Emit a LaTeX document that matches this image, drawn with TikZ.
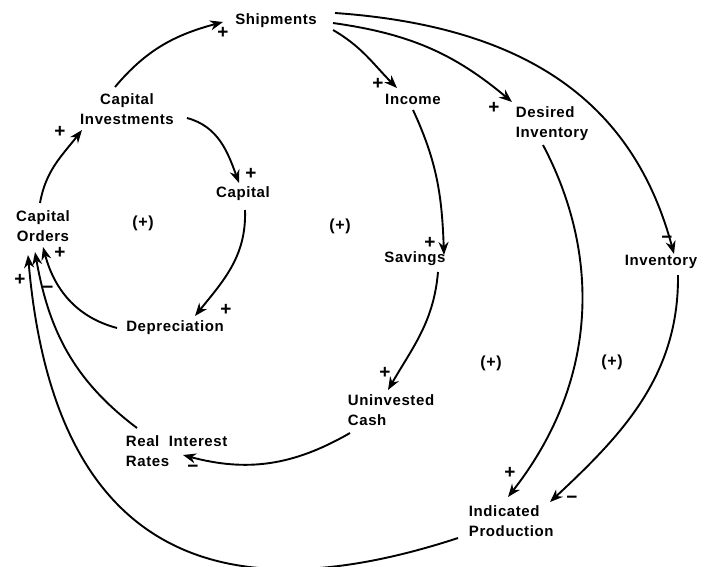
\documentclass[tikz,border=0pt]{standalone}
\usepackage{fontspec}
\setmainfont[LetterSpace=4]{Liberation Sans}
\usetikzlibrary{arrows.meta}
\begin{document}
\begin{tikzpicture}[x=1pt, y=-1pt, >={Stealth[length=13pt,width=10pt]}, line width=1.9pt,
	var/.style={font=\bfseries\fontsize{15}{20}\selectfont, inner sep=2pt},
	sgn/.style={font=\bfseries\fontsize{19}{19}\selectfont, inner sep=0pt},
	loopsign/.style={font=\bfseries\fontsize{16}{16}\selectfont}]
	\useasboundingbox (0,0) rectangle (704,566);
	% variables
	\node[var] (shipments) at (276,21) {Shipments};
	\node[var, align=center] (capinv) at (127,109) {Capital\\Investments};
	\node[var] (capital) at (243,194) {Capital};
	\node[var, align=center] (caporders) at (43,226) {Capital\\Orders};
	\node[var] (depreciation) at (175,328) {Depreciation};
	\node[var] (income) at (413,99) {Income};
	\node[var, align=left, anchor=west] (desinv) at (513,124) {Desired\\Inventory};
	\node[var] (savings) at (415,259) {Savings};
	\node[var] (inventory) at (661,262) {Inventory};
	\node[var, align=left, anchor=west] (uninvcash) at (345,410) {Uninvested\\Cash};
	\node[var, align=left, anchor=west] (realrates) at (123,451) {Real~~Interest\\Rates};
	\node[var, align=left, anchor=west] (indprod) at (466,521) {Indicated\\Production};
	% loop polarities
	\node[loopsign] (loopa) at (143,223) {(+)};
	\node[loopsign] (loopb) at (340,226) {(+)};
	\node[loopsign] (loopc) at (491,363) {(+)};
	\node[loopsign] (loopd) at (612,362) {(+)};
	% links
	\draw[->] ([shift={(-3,-23)}]caporders.center) to[out=80,in=232] ([shift={(-45,21)}]capinv.center);
	\draw[->] ([shift={(-12,-22)}]capinv.center) to[out=50,in=195] ([shift={(-53,1)}]shipments.center);
	\draw[->] ([shift={(60,9)}]capinv.center) to[out=-15,in=110] ([shift={(-4,-11)}]capital.center);
	\draw[->] ([shift={(2,16)}]capital.center) to[out=-88,in=51] ([shift={(20,-12)}]depreciation.center);
	\draw[->] ([shift={(-58,0)}]depreciation.center) to[out=165,in=-75] ([shift={(0,21)}]caporders.center);
	\draw[->] ([shift={(14,-23)}]realrates.west) to[out=143,in=-80] ([shift={(-8,26)}]caporders.center);
	\draw[->] ([shift={(-8,17)}]indprod.west) .. controls +(-250,82) and +(25,290) .. ([shift={(-15,29)}]caporders.center);
	\draw[->] ([shift={(5,23)}]uninvcash.west) to[out=210,in=-15] ([shift={(60,4)}]realrates.west);
	\draw[->] ([shift={(57,9)}]shipments.center) to[out=-30,in=135] ([shift={(-16,-11)}]income.center);
	\draw[->] ([shift={(57,2)}]shipments.center) to[out=-8,in=140] ([shift={(-1,-22)}]desinv.west);
	\draw[->] ([shift={(59,-8)}]shipments.center) .. controls +(200,14) and +(-39,-145) .. ([shift={(13,-8)}]inventory.center);
	\draw[->] ([shift={(0,11)}]income.center) to[out=-65,in=92] ([shift={(29,-4)}]savings.center);
	\draw[->] ([shift={(23,13)}]savings.center) to[out=-95,in=60] ([shift={(43,-20)}]uninvcash.west);
	\draw[->] ([shift={(30,21)}]desinv.west) .. controls +(56,106) and +(93,-119) .. ([shift={(42,-24)}]indprod.west);
	\draw[->] ([shift={(17,13)}]inventory.center) .. controls +(1,100) and +(73,-68) .. ([shift={(84,-19)}]indprod.west);
	% link polarities
	\node[sgn] (s1) at (60,132) {+};
	\node[sgn] (s2) at (223,33) {+};
	\node[sgn] (s3) at (251,174) {+};
	\node[sgn] (s4) at (226,310) {+};
	\node[sgn] (s5) at (60,253) {+};
	\node[sgn] (s6) at (48,290) {−};
	\node[sgn] (s7) at (20,280) {+};
	\node[sgn] (s8) at (193,469) {−};
	\node[sgn] (s9) at (378,84) {+};
	\node[sgn] (s10) at (494,108) {+};
	\node[sgn] (s11) at (667,240) {−};
	\node[sgn] (s12) at (430,243) {+};
	\node[sgn] (s13) at (385,373) {+};
	\node[sgn] (s14) at (510,473) {+};
	\node[sgn] (s15) at (572,500) {−};
\end{tikzpicture}
\end{document}
